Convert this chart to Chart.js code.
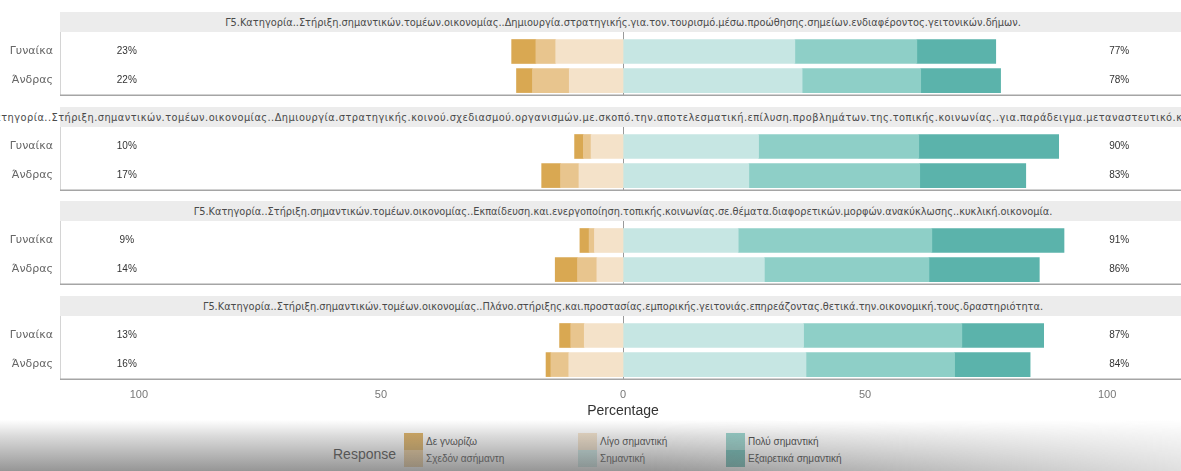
<!DOCTYPE html>
<html>
<head>
<meta charset="utf-8">
<script src="https://cdn.jsdelivr.net/npm/chart.js@4.4.1/dist/chart.umd.min.js"></script>
<style>
  body { margin: 0; width: 1181px; height: 471px; overflow: hidden; background: #fff; position: relative;
         font-family: "Liberation Sans", Arial, sans-serif; }
  .strip { position: absolute; left: 60px; width: 1126px; height: 20px; background: #ececec;
           display: flex; justify-content: center; align-items: center; white-space: nowrap;
           font-family: "DejaVu Sans", sans-serif; font-size: 9.8px; color: #4a4a4a; }
  .strip span { flex: none; }
  .strip.wide span { letter-spacing: 0.46px; }
  .panel { position: absolute; left: 0; width: 1186px; }
  .legend-title { position: absolute; left: 333px; top: 446px; font-size: 14px; color: #333; }
  .key { position: absolute; width: 19px; height: 17px; }
  .key-label { position: absolute; font-size: 10px; color: #333; line-height: 17px; white-space: nowrap; }
  .shade { position: absolute; left: 0; top: 420px; width: 1181px; height: 51px; pointer-events: none;
           background: linear-gradient(to bottom, rgba(140,140,140,0) 0%, rgba(140,140,140,0.3) 30%, rgba(110,110,110,0.72) 100%);
           -webkit-mask-image: linear-gradient(to right, #000 0%, #000 55%, rgba(0,0,0,0.3) 100%);
           mask-image: linear-gradient(to right, #000 0%, #000 55%, rgba(0,0,0,0.3) 100%); }
</style>
</head>
<body>
<div id="root"></div>
<script>
// titres des facettes
const items = [
  'Γ5.Κατηγορία..Στήριξη.σημαντικών.τομέων.οικονομίας..Δημιουργία.στρατηγικής.για.τον.τουρισμό.μέσω.προώθησης.σημείων.ενδιαφέροντος.γειτονικών.δήμων.',
  'Γ5.Κατηγορία..Στήριξη.σημαντικών.τομέων.οικονομίας..Δημιουργία.στρατηγικής.κοινού.σχεδιασμού.οργανισμών.με.σκοπό.την.αποτελεσματική.επίλυση.προβλημάτων.της.τοπικής.κοινωνίας..για.παράδειγμα.μεταναστευτικό.κύμα..προσφυγικό.',
  'Γ5.Κατηγορία..Στήριξη.σημαντικών.τομέων.οικονομίας..Εκπαίδευση.και.ενεργοποίηση.τοπικής.κοινωνίας.σε.θέματα.διαφορετικών.μορφών.ανακύκλωσης..κυκλική.οικονομία.',
  'Γ5.Κατηγορία..Στήριξη.σημαντικών.τομέων.οικονομίας..Πλάνο.στήριξης.και.προστασίας.εμπορικής.γειτονιάς.επηρεάζοντας.θετικά.την.οικονομική.τους.δραστηριότητα.'
];
const genders = ['Γυναίκα', 'Άνδρας'];
const responses = ['Δε γνωρίζω', 'Σχεδόν ασήμαντη', 'Λίγο σημαντική', 'Σημαντική', 'Πολύ σημαντική', 'Εξαιρετικά σημαντική'];

// valeurs (%) : facette 1 Γυναίκα, facette 1 Άνδρας, facette 2 Γυναίκα, ...
const deGnorizo      = [5.0, 3.3, 1.8, 3.9, 1.9, 4.6, 2.3, 1.0];
const sxedonAsimanti = [4.1, 7.6, 1.6, 3.8, 1.1, 4.0, 2.8, 3.7];
const ligoSimantiki  = [13.9, 11.1, 6.6, 9.1, 5.9, 5.4, 8.0, 11.2];
const simantiki      = [35.5, 37.0, 28.0, 26.0, 23.8, 29.2, 37.3, 37.8];
const polySimantiki  = [25.2, 24.5, 33.1, 35.3, 40.0, 34.0, 32.7, 30.7];
const exairetika     = [16.3, 16.5, 28.9, 21.9, 27.3, 22.8, 16.9, 15.6];
const leftPct  = [23, 22, 10, 17, 9, 14, 13, 16];
const rightPct = [77, 78, 90, 83, 91, 86, 87, 84];
const xTicks = [-100, -50, 0, 50, 100];

const series = [deGnorizo, sxedonAsimanti, ligoSimantiki, simantiki, polySimantiki, exairetika];
const colors = ['#d9a852', '#e8c58e', '#f4e2c9', '#c6e6e3', '#8ecfc7', '#5bb3ab'];
// ordre d'empilement : du centre vers l'extérieur
const stackOrder = [2, 1, 0, 3, 4, 5];

Chart.defaults.font.family = '"Liberation Sans", Arial, sans-serif';

const root = document.getElementById('root');

// plugin : ligne du zéro, cadre du panneau, pourcentages
const panelPlugin = {
  id: 'panel',
  beforeDatasetsDraw(chart) {
    const {ctx, chartArea: a, scales: {x}} = chart;
    const x0 = Math.round(x.getPixelForValue(0)) + 0.5;
    ctx.save();
    ctx.strokeStyle = '#9a9a9a';
    ctx.lineWidth = 1;
    ctx.beginPath();
    ctx.moveTo(x0, a.top);
    ctx.lineTo(x0, a.bottom);
    ctx.stroke();
    ctx.restore();
  },
  afterDatasetsDraw(chart) {
    const {ctx, chartArea: a, scales: {x, y}} = chart;
    const k = chart.options.facet;
    ctx.save();
    ctx.font = '10px "Liberation Sans", Arial, sans-serif';
    ctx.fillStyle = '#333';
    ctx.textAlign = 'center';
    ctx.textBaseline = 'middle';
    for (let g = 0; g < 2; g++) {
      const yy = y.getPixelForValue(g + 1);
      ctx.fillText(leftPct[2 * k + g] + '%', x.getPixelForValue(-102.5), yy);
      ctx.fillText(rightPct[2 * k + g] + '%', x.getPixelForValue(102.5), yy);
    }
    // cadre
    ctx.strokeStyle = '#d4d4d4';
    ctx.lineWidth = 1;
    ctx.beginPath();
    ctx.moveTo(a.left + 0.5, a.top);
    ctx.lineTo(a.left + 0.5, a.bottom);
    ctx.stroke();
    ctx.strokeStyle = '#a5a5a5';
    ctx.lineWidth = 1.5;
    ctx.beginPath();
    ctx.moveTo(a.left, a.bottom - 0.75);
    ctx.lineTo(a.right, a.bottom - 0.75);
    ctx.stroke();
    ctx.restore();
  }
};

items.forEach((title, k) => {
  const top = Math.round(12 + 94.5 * k);
  const strip = document.createElement('div');
  strip.className = k === 1 ? 'strip wide' : 'strip';
  strip.style.top = top + 'px';
  strip.innerHTML = '<span></span>';
  strip.firstChild.textContent = title;
  root.appendChild(strip);

  const last = k === items.length - 1;
  const box = document.createElement('div');
  box.className = 'panel';
  box.style.top = (top + 20) + 'px';
  box.style.height = (last ? 104 : 64) + 'px';
  const cv = document.createElement('canvas');
  box.appendChild(cv);
  root.appendChild(box);

  const datasets = stackOrder.map(r => ({
    label: responses[r],
    data: [0, 1].map(g => ({ x: (r < 3 ? -1 : 1) * series[r][2 * k + g], y: g + 1 })),
    backgroundColor: colors[r],
    borderWidth: 0,
    barThickness: 24,
    stack: 'likert'
  }));

  new Chart(cv, {
    type: 'bar',
    data: { datasets },
    options: {
      facet: k,
      indexAxis: 'y',
      responsive: true,
      maintainAspectRatio: false,
      animation: false,
      devicePixelRatio: 1,
      layout: { padding: 0 },
      plugins: { legend: { display: false }, tooltip: { enabled: false } },
      scales: {
        x: {
          type: 'linear',
          stacked: true,
          min: -116.3,
          max: 116.3,
          display: last,
          grid: { display: false, drawTicks: false },
          border: { display: false },
          afterBuildTicks: s => { s.ticks = xTicks.map(v => ({ value: v })); },
          afterFit: s => {
            if (last) s.height = 40;
            s.paddingLeft = 0;
            s.paddingRight = 0;
          },
          ticks: { padding: 8, color: '#777', font: { size: 11 }, callback: v => Math.abs(v) },
          title: { display: true, text: 'Percentage', color: '#333', font: { size: 14 }, padding: 0 }
        },
        y: {
          type: 'linear',
          offset: false,
          min: 0.33,
          max: 2.53,
          reverse: true,
          grid: { display: false, drawTicks: false, offset: false },
          border: { display: false },
          afterBuildTicks: s => { s.ticks = [{ value: 1 }, { value: 2 }]; },
          afterFit: s => {
            s.width = 60;
            s.paddingTop = 0;
            s.paddingBottom = 0;
          },
          ticks: { padding: 7, color: '#666', font: { family: '"DejaVu Sans", sans-serif', size: 11 }, callback: v => genders[v - 1] }
        }
      }
    },
    plugins: [panelPlugin]
  });
});

// légende
const lt = document.createElement('div');
lt.className = 'legend-title';
lt.textContent = 'Response';
root.appendChild(lt);
const colX = [404, 578, 726];
responses.forEach((name, i) => {
  const col = Math.floor(i / 2), row = i % 2;
  const key = document.createElement('div');
  key.className = 'key';
  key.style.left = colX[col] + 'px';
  key.style.top = (433 + row * 17) + 'px';
  key.style.background = colors[i];
  root.appendChild(key);
  const lab = document.createElement('div');
  lab.className = 'key-label';
  lab.style.left = (colX[col] + 22) + 'px';
  lab.style.top = (433 + row * 17) + 'px';
  lab.textContent = name;
  root.appendChild(lab);
});
const shade = document.createElement('div');
shade.className = 'shade';
root.appendChild(shade);
</script>
</body>
</html>
